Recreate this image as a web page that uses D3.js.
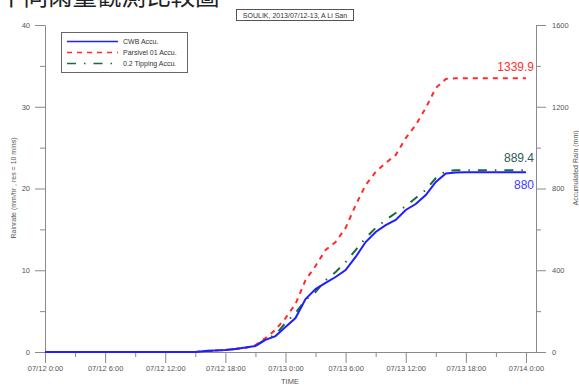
<!DOCTYPE html>
<html>
<head>
<meta charset="utf-8">
<script src="https://cdn.jsdelivr.net/npm/d3@7"></script>
<style>
  html, body { margin: 0; padding: 0; background: #fff; }
  svg { display: block; font-family: "Liberation Sans", Arial, sans-serif; }
</style>
</head>
<body>
<svg id="chart" width="579" height="385"></svg>
<script>
// Hours since 2013/07/12 0:00 (hourly samples)
const hours = d3.range(0, 49);

// Accumulated rain (mm), one value per hour
const cwbAccu = [
  0,0,0,0,0,0,0,0,0,0,0,0,0,0,0,0,
  5,7,10,15,22,29,59,78,122,166,259,308,338,367,401,465,
  538,587,621,646,695,724,768,832,873,878,880,880,880,880,880,880,880
];
const parsivelAccu = [
  0,0,0,0,0,0,0,0,0,0,0,0,0,0,0,0,
  5,7,10,15,20,34,68,108,166,235,352,421,499,538,607,719,
  817,881,925,964,1047,1111,1194,1292,1336,1339.9,1339.9,1339.9,1339.9,1339.9,1339.9,1339.9,1339.9
];
const tippingAccu = [
  0,0,0,0,0,0,0,0,0,0,0,0,0,0,0,0,
  5,7,10,15,22,30,62,85,142,191,255,294,352,391,440,499,
  558,607,646,680,714,754,793,851,886,889.4,889.4,889.4,889.4,889.4,889.4,889.4,889.4
];

const seriesNames = ["CWB Accu.", "Parsivel 01 Accu.", "0.2 Tipping Accu."];
const finalLabels = ["880", "1339.9", "889.4"];

const xTickHours = [0, 6, 12, 18, 24, 30, 36, 42, 48];
const xTickLabels = ["07/12 0:00", "07/12 6:00", "07/12 12:00", "07/12 18:00",
                     "07/13 0:00", "07/13 6:00", "07/13 12:00", "07/13 18:00", "07/14 0:00"];
const leftTicks = [0, 10, 20, 30, 40];
const rightTicks = [0, 400, 800, 1200, 1600];

const svg = d3.select("#chart");
const axisColor = "#8a8a8a";
const labelColor = "#555";

const x = d3.scaleLinear().domain([0, 49]).range([45, 536]);
const yL = d3.scaleLinear().domain([0, 40]).range([352, 25]);
const yR = d3.scaleLinear().domain([0, 1600]).range([352, 25]);

// Heading (runs off the top edge of the page)
svg.append("text")
  .attr("x", -1).attr("y", 5)
  .attr("font-family", "'Noto Sans CJK TC', 'Noto Sans CJK SC', sans-serif")
  .attr("font-size", 24.5)
  .attr("fill", "#222")
  .text("不同雨量觀測比較圖");

// Axes
function styleAxis(g) {
  g.select(".domain").attr("stroke", axisColor);
  g.selectAll(".tick line").attr("stroke", axisColor);
  g.selectAll(".tick text").attr("fill", labelColor).attr("font-size", 7.5)
    .attr("font-family", "'Liberation Sans', Arial, sans-serif");
}

// left minor ticks
svg.append("g").attr("transform", "translate(45,0)")
  .call(d3.axisLeft(yL).tickValues(d3.range(5, 40, 10)).tickSize(5).tickFormat(""))
  .call(styleAxis).select(".domain").remove();
svg.append("g").attr("transform", "translate(45,0)")
  .call(d3.axisLeft(yL).tickValues(leftTicks).tickSize(10).tickSizeOuter(0).tickPadding(5)
    .tickFormat(d3.format("d")))
  .call(styleAxis);

// right axis
svg.append("g").attr("transform", "translate(536,0)")
  .call(d3.axisRight(yR).tickValues(d3.range(200, 1600, 400)).tickSize(5).tickFormat(""))
  .call(styleAxis).select(".domain").remove();
svg.append("g").attr("transform", "translate(536,0)")
  .call(d3.axisRight(yR).tickValues(rightTicks).tickSize(10).tickSizeOuter(0).tickPadding(6)
    .tickFormat(d3.format("d")))
  .call(styleAxis);

// bottom axis
svg.append("g").attr("transform", "translate(0,352)")
  .call(d3.axisBottom(x).tickValues(d3.range(3, 48, 6)).tickSize(5).tickFormat(""))
  .call(styleAxis).select(".domain").remove();
svg.append("g").attr("transform", "translate(0,352)")
  .call(d3.axisBottom(x).tickValues(xTickHours).tickSize(11).tickSizeOuter(0).tickPadding(3)
    .tickFormat((d, i) => xTickLabels[i]))
  .call(styleAxis);

// axis titles
svg.append("text").attr("x", 290).attr("y", 384).attr("text-anchor", "middle")
  .attr("font-size", 7.5).attr("fill", labelColor).text("TIME");
svg.append("text").attr("transform", "translate(16,188) rotate(-90)")
  .attr("text-anchor", "middle").attr("font-size", 7).attr("fill", labelColor)
  .text("Rainrate (mm/hr , res = 10 mins)");
svg.append("text").attr("transform", "translate(578,168) rotate(-90)")
  .attr("text-anchor", "middle").attr("font-size", 7).attr("fill", labelColor)
  .text("Accumulated Rain (mm)");

// chart title box
const title = svg.append("g");
title.append("rect").attr("x", 236.5).attr("y", 9.5).attr("width", 117).attr("height", 11)
  .attr("fill", "#fff").attr("stroke", "#555").attr("stroke-width", 1);
title.append("text").attr("x", 295).attr("y", 17.5).attr("text-anchor", "middle")
  .attr("font-size", 7).attr("fill", "#333").text("SOULIK, 2013/07/12-13, A Li San");

// series lines
const styles = [
  { color: "#1f1fff", width: 2, dash: null, data: cwbAccu, labelColor: "#4040ff" },
  { color: "#ff2b2b", width: 2, dash: "5,5", data: parsivelAccu, labelColor: "#ff3030" },
  { color: "#1b6b35", width: 2, dash: "9,8,1.5,8", data: tippingAccu, labelColor: "#2e5a5a" }
];
const line = d3.line().x(d => x(d[0])).y(d => yR(d[1]));
const drawOrder = [2, 1, 0];
drawOrder.forEach(i => {
  const s = styles[i];
  svg.append("path")
    .datum(hours.map((h, k) => [h, s.data[k]]))
    .attr("d", line)
    .attr("fill", "none")
    .attr("stroke", s.color)
    .attr("stroke-width", s.width)
    .attr("stroke-dasharray", s.dash);
});

// final accumulation labels
const labelOffsets = [17, -7, -8];
styles.forEach((s, i) => {
  svg.append("text")
    .attr("x", 534)
    .attr("y", yR(s.data[s.data.length - 1]) + labelOffsets[i])
    .attr("text-anchor", "end")
    .attr("font-size", 12)
    .attr("fill", s.labelColor)
    .text(finalLabels[i]);
});

// legend
const legend = svg.append("g");
legend.append("rect").attr("x", 61.5).attr("y", 32.5).attr("width", 126).attr("height", 40)
  .attr("fill", "#fff").attr("stroke", "#666").attr("stroke-width", 1);
styles.forEach((s, i) => {
  const yy = 41.5 + i * 11;
  legend.append("line").attr("x1", 67).attr("x2", 118).attr("y1", yy).attr("y2", yy)
    .attr("stroke", s.color).attr("stroke-width", 1.6).attr("stroke-dasharray", s.dash);
  legend.append("text").attr("x", 123).attr("y", yy + 2.5).attr("font-size", 7)
    .attr("fill", "#333").text(seriesNames[i]);
});
</script>
</body>
</html>
